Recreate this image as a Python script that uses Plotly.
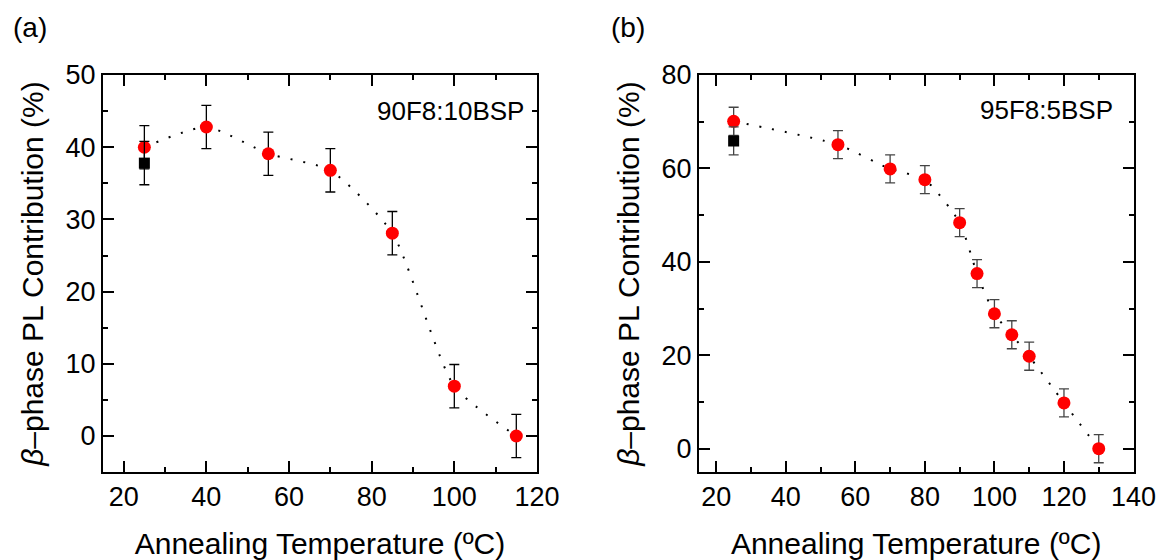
import plotly.graph_objects as go

# Panel (a): 90F8:10BSP
temp_a = [25, 40, 55, 70, 85, 100, 115]
beta_a = [40.0, 42.8, 39.1, 36.8, 28.1, 6.9, 0.0]
err_a = [3, 3, 3, 3, 3, 3, 3]
ref_temp_a = [25]
ref_beta_a = [37.8]
ref_err_a = [3]

# Panel (b): 95F8:5BSP
temp_b = [25, 55, 70, 80, 90, 95, 100, 105, 110, 120, 130]
beta_b = [70.1, 65.1, 59.9, 57.6, 48.4, 37.5, 28.9, 24.4, 19.8, 9.8, 0.0]
err_b = [3, 3, 3, 3, 3, 3, 3, 3, 3, 3, 3]
ref_temp_b = [25]
ref_beta_b = [65.9]
ref_err_b = [3]

FONT = "Liberation Sans, Arial, sans-serif"

fig = go.Figure()

def add_panel(xa, ya, t, b, e, rt, rb, re, ecolor):
    fig.add_trace(go.Scatter(x=t, y=b, mode="lines", xaxis=xa, yaxis=ya,
                             line=dict(color="black", width=2, dash="2px,11px", shape="spline", smoothing=0.6),
                             showlegend=False, hoverinfo="skip"))
    fig.add_trace(go.Scatter(x=t, y=b, mode="markers", xaxis=xa, yaxis=ya,
                             marker=dict(color="#ff0000", size=13, symbol="circle"),
                             error_y=dict(type="data", array=e, visible=True, color=ecolor, thickness=1.3, width=5),
                             showlegend=False))
    fig.add_trace(go.Scatter(x=rt, y=rb, mode="markers", xaxis=xa, yaxis=ya,
                             marker=dict(color="black", size=11, symbol="square"),
                             error_y=dict(type="data", array=re, visible=True, color=ecolor, thickness=1.3, width=5),
                             showlegend=False))

add_panel("x", "y", temp_a, beta_a, err_a, ref_temp_a, ref_beta_a, ref_err_a, "black")
add_panel("x2", "y2", temp_b, beta_b, err_b, ref_temp_b, ref_beta_b, ref_err_b, "#444444")

axis_common = dict(showline=True, linewidth=2, linecolor="black", mirror="allticks",
                   ticks="inside", ticklen=11, tickwidth=2, tickcolor="black",
                   showgrid=False, zeroline=False, automargin=False,
                   tickfont=dict(family=FONT, size=27, color="black"),
                   title_font=dict(family=FONT, size=30, color="black"))

xtitle = "Annealing Temperature (ºC)"
ytitle = "<i>β</i>–phase PL Contribution (%)"

fig.update_layout(
    width=1159, height=560,
    margin=dict(l=0, r=0, t=0, b=0),
    paper_bgcolor="white", plot_bgcolor="white",
    xaxis=dict(domain=[0.0889, 0.4633], range=[15, 120], tick0=0, dtick=20,
               minor=dict(dtick=10, ticklen=5, tickwidth=2, ticks="inside", tickcolor="black"),
               title=dict(text=xtitle, standoff=23), anchor="y", **axis_common),
    yaxis=dict(domain=[0.157, 0.866], range=[-5, 50], tick0=0, dtick=10,
               minor=dict(dtick=5, ticklen=5, tickwidth=2, ticks="inside", tickcolor="black"),
               title=dict(text=ytitle, standoff=13), anchor="x", **axis_common),
    xaxis2=dict(domain=[0.603, 0.978], range=[15, 140], tick0=0, dtick=20,
                minor=dict(dtick=10, ticklen=5, tickwidth=2, ticks="inside", tickcolor="black"),
                title=dict(text=xtitle, standoff=23), anchor="y2", **axis_common),
    yaxis2=dict(domain=[0.157, 0.866], range=[-5, 80], tick0=0, dtick=20,
                minor=dict(dtick=10, ticklen=5, tickwidth=2, ticks="inside", tickcolor="black"),
                title=dict(text=ytitle, standoff=13), anchor="x2", **axis_common),
    annotations=[
        dict(text="(a)", x=30 / 1159, y=1 - 27 / 560, xref="paper", yref="paper",
             showarrow=False, xanchor="center", yanchor="middle",
             font=dict(family=FONT, size=28, color="black")),
        dict(text="(b)", x=628 / 1159, y=1 - 27 / 560, xref="paper", yref="paper",
             showarrow=False, xanchor="center", yanchor="middle",
             font=dict(family=FONT, size=28, color="black")),
        dict(text="90F8:10BSP", x=117.3, y=45, xref="x", yref="y",
             showarrow=False, xanchor="right", yanchor="middle",
             font=dict(family=FONT, size=26, color="black")),
        dict(text="95F8:5BSP", x=134.8, y=72.5, xref="x2", yref="y2",
             showarrow=False, xanchor="right", yanchor="middle",
             font=dict(family=FONT, size=26, color="black")),
    ],
)

fig.write_html("out.html", config={"displayModeBar": False},
               post_script="document.body.style.margin='0';document.body.style.overflow='hidden';")
